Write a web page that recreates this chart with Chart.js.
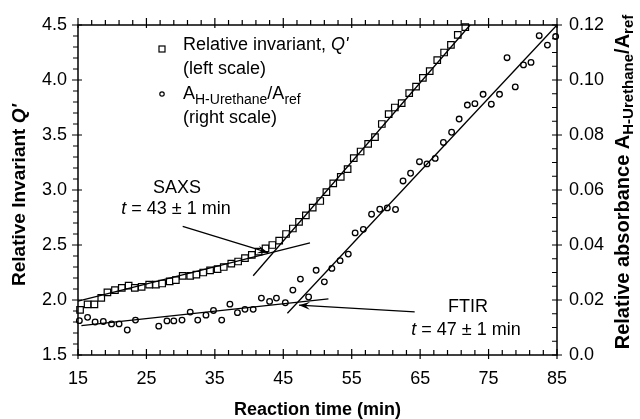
<!DOCTYPE html>
<html>
<head>
<meta charset="utf-8">
<script src="https://cdn.jsdelivr.net/npm/chart.js@4.4.0/dist/chart.umd.min.js"></script>
<style>
  html, body { margin: 0; padding: 0; background: #fff; }
  #wrap { width: 640px; height: 419px; }
</style>
</head>
<body>
<div id="wrap"><canvas id="chart" width="640" height="419"></canvas></div>
<script>
// Relative invariant Q' (left scale), square markers
const sqTime = [15.3, 16.4, 17.4, 18.4, 19.3, 20.4, 21.4, 22.4, 23.3, 24.3, 25.4, 26.4, 27.3, 28.4, 29.3,
  30.3, 31.4, 32.3, 33.3, 34.3, 35.4, 36.3, 37.4, 38.4, 39.4, 40.4, 41.4, 42.4, 43.4, 44.4, 45.4, 46.4,
  47.3, 48.3, 49.3, 50.4, 51.3, 52.3, 53.4, 54.4, 55.3, 56.3, 57.4, 58.4, 59.4, 60.4, 61.3, 62.3, 63.4,
  64.4, 65.4, 66.4, 67.5, 68.5, 69.5, 70.5, 71.6];
const sqQ = [1.91, 1.96, 1.96, 2.02, 2.07, 2.09, 2.11, 2.13, 2.11, 2.12, 2.14, 2.14, 2.15, 2.17, 2.18,
  2.22, 2.22, 2.23, 2.25, 2.27, 2.28, 2.30, 2.33, 2.35, 2.38, 2.41, 2.44, 2.47, 2.50, 2.54, 2.60, 2.65,
  2.71, 2.77, 2.84, 2.90, 2.98, 3.06, 3.12, 3.19, 3.29, 3.35, 3.42, 3.48, 3.60, 3.69, 3.75, 3.79, 3.88,
  3.94, 4.02, 4.08, 4.18, 4.25, 4.32, 4.41, 4.48];

// A(H-Urethane)/A(ref) (right scale), circle markers
const ciTime = [15.2, 16.4, 17.5, 18.7, 19.9, 21.0, 22.2, 23.4, 26.8, 28.0, 29.0, 30.2, 31.4, 32.5, 33.7,
  34.8, 36.0, 37.2, 38.3, 39.4, 40.6, 41.8, 43.0, 44.0, 45.3, 46.4, 47.5, 48.7, 49.8, 51.0, 52.1, 53.3,
  54.5, 55.5, 56.7, 57.9, 59.1, 60.2, 61.4, 62.5, 63.6, 64.9, 66.0, 67.2, 68.4, 69.6, 70.7, 71.9, 73.0,
  74.2, 75.4, 76.6, 77.7, 78.9, 80.1, 81.2, 82.4, 83.6, 84.8];
const ciA = [0.0125, 0.0137, 0.0120, 0.0122, 0.0113, 0.0113, 0.0091, 0.0127, 0.0105, 0.0124, 0.0124, 0.0127,
  0.0156, 0.0127, 0.0145, 0.0162, 0.0127, 0.0185, 0.0154, 0.0166, 0.0166, 0.0207, 0.0195, 0.0207, 0.0190,
  0.0236, 0.0276, 0.0211, 0.0308, 0.0266, 0.0315, 0.0343, 0.0367, 0.0444, 0.0457, 0.0512, 0.0530, 0.0535,
  0.0529, 0.0633, 0.0661, 0.0703, 0.0695, 0.0715, 0.0773, 0.0810, 0.0858, 0.0909, 0.0914, 0.0948, 0.0912,
  0.0948, 0.1081, 0.0975, 0.1055, 0.1064, 0.1161, 0.1127, 0.1158];

// fitted straight lines (end points)
const fitQSlowT = [15, 48.9];
const fitQSlowV = [1.99, 2.52];
const fitQFastT = [40.6, 72.3];
const fitQFastV = [2.22, 4.5];
const fitASlowT = [15.5, 51.6];
const fitASlowV = [0.0107, 0.0204];
const fitAFastT = [45.6, 85];
const fitAFastV = [0.0152, 0.12];

// annotation arrows: [from, to]
const saxsArrowT = [30.3, 42.8];
const saxsArrowQ = [2.67, 2.43];
const ftirArrowT = [64.2, 47.3];
const ftirArrowA = [0.0157, 0.0181];

// tick labels
const xTicks = [15, 25, 35, 45, 55, 65, 75, 85];
const yTicks = [1.5, 2.0, 2.5, 3.0, 3.5, 4.0, 4.5];
const y1Ticks = [0, 0.02, 0.04, 0.06, 0.08, 0.10, 0.12];

const FONT = "'Liberation Sans', Arial, Helvetica, sans-serif";

function pts(xs, ys) {
  return xs.map((x, i) => ({ x: x, y: ys[i] }));
}

function fitLine(xs, ys, axis) {
  return {
    data: pts(xs, ys),
    yAxisID: axis,
    showLine: true,
    pointRadius: 0,
    borderColor: '#000',
    borderWidth: 1.3,
    clip: false
  };
}

// draw text made of pieces with different fonts / offsets, left to right
function richWidth(ctx, parts) {
  let w = 0;
  parts.forEach(p => { ctx.font = p.font; w += ctx.measureText(p.t).width; });
  return w;
}
function drawRich(ctx, x, y, parts) {
  let cx = x;
  parts.forEach(p => {
    ctx.font = p.font;
    ctx.fillText(p.t, cx, y + (p.dy || 0));
    cx += ctx.measureText(p.t).width;
  });
}

const decorPlugin = {
  id: 'decor',
  afterDraw(chart) {
    const ctx = chart.ctx;
    const a = chart.chartArea;
    const sx = chart.scales.x, sy = chart.scales.y, sy1 = chart.scales.y1;
    ctx.save();
    ctx.strokeStyle = '#000';
    ctx.fillStyle = '#000';

    // frame
    ctx.lineWidth = 1.5;
    ctx.strokeRect(a.left, a.top, a.right - a.left, a.bottom - a.top);

    // ticks
    ctx.lineWidth = 1.2;
    ctx.beginPath();
    for (let v = 15; v <= 85.001; v += 2) {
      const px = sx.getPixelForValue(v);
      const major = Math.abs(((v - 15) % 10)) < 0.01;
      ctx.moveTo(px, a.bottom - (major ? 6 : 5)); ctx.lineTo(px, a.bottom + (major ? 4 : 0));
      ctx.moveTo(px, a.top - (major ? 7 : 5)); ctx.lineTo(px, a.top + (major ? 3 : 0));
    }
    for (let k = 0; k <= 30; k++) {
      const py = sy.getPixelForValue(1.5 + k * 0.1);
      const major = k % 5 === 0;
      ctx.moveTo(a.left - (major ? 6 : 5), py); ctx.lineTo(a.left + (major ? 4 : 0), py);
    }
    for (let k = 0; k <= 24; k++) {
      const py = sy1.getPixelForValue(k * 0.005);
      const major = k % 4 === 0;
      ctx.moveTo(a.right - 5, py); ctx.lineTo(a.right + (major ? 5 : 0), py);
    }
    ctx.stroke();

    // arrows
    function arrow(x0, y0, x1, y1) {
      ctx.lineWidth = 1.3;
      ctx.beginPath(); ctx.moveTo(x0, y0); ctx.lineTo(x1, y1); ctx.stroke();
      const ang = Math.atan2(y1 - y0, x1 - x0);
      const L = 11, W = 4;
      ctx.beginPath();
      ctx.moveTo(x1, y1);
      ctx.lineTo(x1 - L * Math.cos(ang) + W * Math.sin(ang), y1 - L * Math.sin(ang) - W * Math.cos(ang));
      ctx.lineTo(x1 - 0.6 * L * Math.cos(ang), y1 - 0.6 * L * Math.sin(ang));
      ctx.lineTo(x1 - L * Math.cos(ang) - W * Math.sin(ang), y1 - L * Math.sin(ang) + W * Math.cos(ang));
      ctx.closePath();
      ctx.fill();
    }
    arrow(sx.getPixelForValue(saxsArrowT[0]), sy.getPixelForValue(saxsArrowQ[0]),
          sx.getPixelForValue(saxsArrowT[1]), sy.getPixelForValue(saxsArrowQ[1]));
    arrow(sx.getPixelForValue(ftirArrowT[0]), sy1.getPixelForValue(ftirArrowA[0]),
          sx.getPixelForValue(ftirArrowT[1]), sy1.getPixelForValue(ftirArrowA[1]));

    const reg = '18px ' + FONT;
    const ital = 'italic 18px ' + FONT;
    const sub = '14px ' + FONT;
    ctx.textBaseline = 'alphabetic';
    ctx.textAlign = 'left';

    // legend
    ctx.lineWidth = 1.2;
    ctx.strokeRect(159, 46, 6, 6);
    ctx.beginPath(); ctx.arc(162, 94, 2.2, 0, Math.PI * 2); ctx.stroke();
    drawRich(ctx, 183, 50, [{ t: 'Relative invariant, ', font: reg }, { t: "Q'", font: ital }]);
    drawRich(ctx, 183, 74, [{ t: '(left scale)', font: reg }]);
    drawRich(ctx, 183, 99, [
      { t: 'A', font: reg }, { t: 'H-Urethane', font: sub, dy: 5 },
      { t: '/A', font: reg }, { t: 'ref', font: sub, dy: 5 }]);
    drawRich(ctx, 183, 123, [{ t: '(right scale)', font: reg }]);

    // annotations
    function centered(cx, y, parts) {
      drawRich(ctx, cx - richWidth(ctx, parts) / 2, y, parts);
    }
    centered(177, 193, [{ t: 'SAXS', font: reg }]);
    centered(176, 214, [{ t: 't', font: ital }, { t: ' = 43 \u00b1 1 min', font: reg }]);
    centered(468, 312, [{ t: 'FTIR', font: reg }]);
    centered(466, 335, [{ t: 't', font: ital }, { t: ' = 47 \u00b1 1 min', font: reg }]);

    // axis titles
    const bold = 'bold 19px ' + FONT;
    const boldI = 'bold italic 19px ' + FONT;
    ctx.textBaseline = 'middle';
    centered((a.left + a.right) / 2, 410, [{ t: 'Reaction time (min)', font: 'bold 18px ' + FONT }]);

    ctx.save();
    ctx.translate(20, 195);
    ctx.rotate(-Math.PI / 2);
    centered(0, 0, [{ t: 'Relative Invariant ', font: bold }, { t: "Q'", font: boldI }]);
    ctx.restore();

    const boldR = 'bold 20px ' + FONT;
    const boldSub = 'bold 15px ' + FONT;
    ctx.save();
    ctx.translate(623, 182);
    ctx.rotate(-Math.PI / 2);
    centered(0, 0, [
      { t: 'Relative absorbance A', font: boldR }, { t: 'H-Urethane', font: boldSub, dy: 6 },
      { t: '/A', font: boldR }, { t: 'ref', font: boldSub, dy: 6 }]);
    ctx.restore();

    ctx.restore();
  }
};

const tickFont = { family: FONT, size: 18 };

new Chart(document.getElementById('chart').getContext('2d'), {
  type: 'scatter',
  data: {
    datasets: [
      fitLine(fitQSlowT, fitQSlowV, 'y'),
      fitLine(fitQFastT, fitQFastV, 'y'),
      fitLine(fitASlowT, fitASlowV, 'y1'),
      fitLine(fitAFastT, fitAFastV, 'y1'),
      {
        label: "Relative invariant, Q'",
        data: pts(sqTime, sqQ),
        yAxisID: 'y',
        pointStyle: 'rect',
        pointRadius: 4.6,
        borderColor: '#000',
        backgroundColor: '#fff',
        borderWidth: 1.2,
        clip: false
      },
      {
        label: 'A H-Urethane / A ref',
        data: pts(ciTime, ciA),
        yAxisID: 'y1',
        pointStyle: 'circle',
        pointRadius: 2.8,
        borderColor: '#000',
        backgroundColor: '#fff',
        borderWidth: 1.3,
        clip: false
      }
    ]
  },
  options: {
    responsive: false,
    animation: false,
    layout: { padding: { top: 25, left: 0, right: 0, bottom: 0 } },
    plugins: { legend: { display: false }, tooltip: { enabled: false } },
    scales: {
      x: {
        type: 'linear', min: 15, max: 85,
        afterBuildTicks: s => { s.ticks = xTicks.map(v => ({ value: v })); },
        afterFit: s => { s.height = 64; },
        grid: { display: false, drawTicks: false },
        border: { display: false },
        ticks: { font: tickFont, color: '#000', padding: 13, autoSkip: false, maxRotation: 0,
                  callback: v => String(v) }
      },
      y: {
        position: 'left', min: 1.5, max: 4.5,
        afterBuildTicks: s => { s.ticks = yTicks.map(v => ({ value: v })); },
        afterFit: s => { s.width = 78; },
        grid: { display: false, drawTicks: false },
        border: { display: false },
        ticks: { font: tickFont, color: '#000', padding: 11, callback: v => v.toFixed(1) }
      },
      y1: {
        position: 'right', min: 0, max: 0.12,
        afterBuildTicks: s => { s.ticks = y1Ticks.map(v => ({ value: v })); },
        afterFit: s => { s.width = 83; },
        grid: { display: false, drawTicks: false },
        border: { display: false },
        ticks: { font: tickFont, color: '#000', padding: 12,
                 callback: v => (v === 0 ? '0.0' : v.toFixed(2)) }
      }
    }
  },
  plugins: [decorPlugin]
});
</script>
</body>
</html>
